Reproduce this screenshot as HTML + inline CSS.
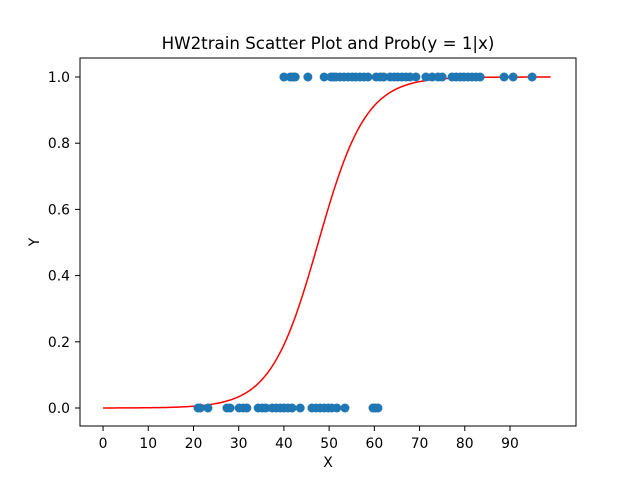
<!DOCTYPE html>
<html><head><meta charset="utf-8"><style>
body{margin:0;background:#fff;}
svg text{font-family:"DejaVu Sans","Liberation Sans",sans-serif;fill:#000;}
</style></head><body>
<svg id="chart" width="640" height="480" xmlns="http://www.w3.org/2000/svg">
<rect width="640" height="480" fill="#fff"/>
<text x="328" y="49" text-anchor="middle" font-size="16.67">HW2train Scatter Plot and Prob(y = 1|x)</text>
<g id="curve"></g>
<g id="points"></g>
<rect x="80" y="58" width="496" height="368" fill="none" stroke="#000" stroke-width="1"/>
<g id="xticks"></g><g id="yticks"></g>
<text x="328" y="467" text-anchor="middle" font-size="13.9">X</text>
<text transform="translate(39,242) rotate(-90)" text-anchor="middle" font-size="13.9">Y</text>
</svg>
<script>
const pos1 = [40.0,41.4,42.0,42.5,45.3,48.9,50.4,50.9,51.5,52.4,53.3,54.2,55.1,55.9,56.8,57.7,58.6,60.4,61.3,62.1,63.5,64.4,65.2,66.1,67.0,67.9,69.2,71.4,72.8,74.1,75.0,77.2,78.1,79.0,79.8,80.7,81.6,82.5,83.4,88.7,90.7,94.9];
const pos0 = [21.0,21.5,23.2,27.4,28.1,30.1,31.0,31.8,34.3,35.2,36.0,37.4,38.3,39.2,40.0,40.9,41.8,43.6,46.2,47.1,48.0,48.9,49.8,50.6,51.7,53.5,59.7,60.2,60.8];
const slope = 0.19, center = 47.6;
const xTicks = [0,10,20,30,40,50,60,70,80,90];
const yTicks = [0.0,0.2,0.4,0.6,0.8,1.0];
const NS="http://www.w3.org/2000/svg";
const xs = v => 80 + (v + 5.1) * (496 / 109.7);
const ys = v => 408 - v * 331;
function mk(t,a,p){const e=document.createElementNS(NS,t);for(const k in a)e.setAttribute(k,a[k]);p.appendChild(e);return e;}
let d="";
for(let x=0;x<=99;x+=0.5){const y=1/(1+Math.exp(-slope*(x-center)));d+=(x?"L":"M")+xs(x).toFixed(2)+","+ys(y).toFixed(2);}
const c=mk("path",{d:d,fill:"none",stroke:"#ff0000","stroke-width":1.5},document.getElementById("curve"));


const pg=document.getElementById("points");
pos1.forEach(v=>{const p=mk("circle",{cx:xs(v),cy:ys(1),r:4.5,fill:"#1f77b4"},pg);

});
pos0.forEach(v=>{const p=mk("circle",{cx:xs(v),cy:ys(0),r:4.5,fill:"#1f77b4"},pg);

});
const xg=document.getElementById("xticks");
xTicks.forEach(v=>{const g=mk("g",{},xg);


mk("line",{x1:xs(v),x2:xs(v),y1:426,y2:431,stroke:"#000"},g);
const t=mk("text",{x:xs(v),y:448,"text-anchor":"middle","font-size":13.9},g);t.textContent=v;});
const yg=document.getElementById("yticks");
yTicks.forEach(v=>{const g=mk("g",{},yg);


mk("line",{x1:75,x2:80,y1:ys(v),y2:ys(v),stroke:"#000"},g);
const t=mk("text",{x:70,y:ys(v)+5,"text-anchor":"end","font-size":13.9},g);t.textContent=v.toFixed(1);});
</script>
</body></html>
